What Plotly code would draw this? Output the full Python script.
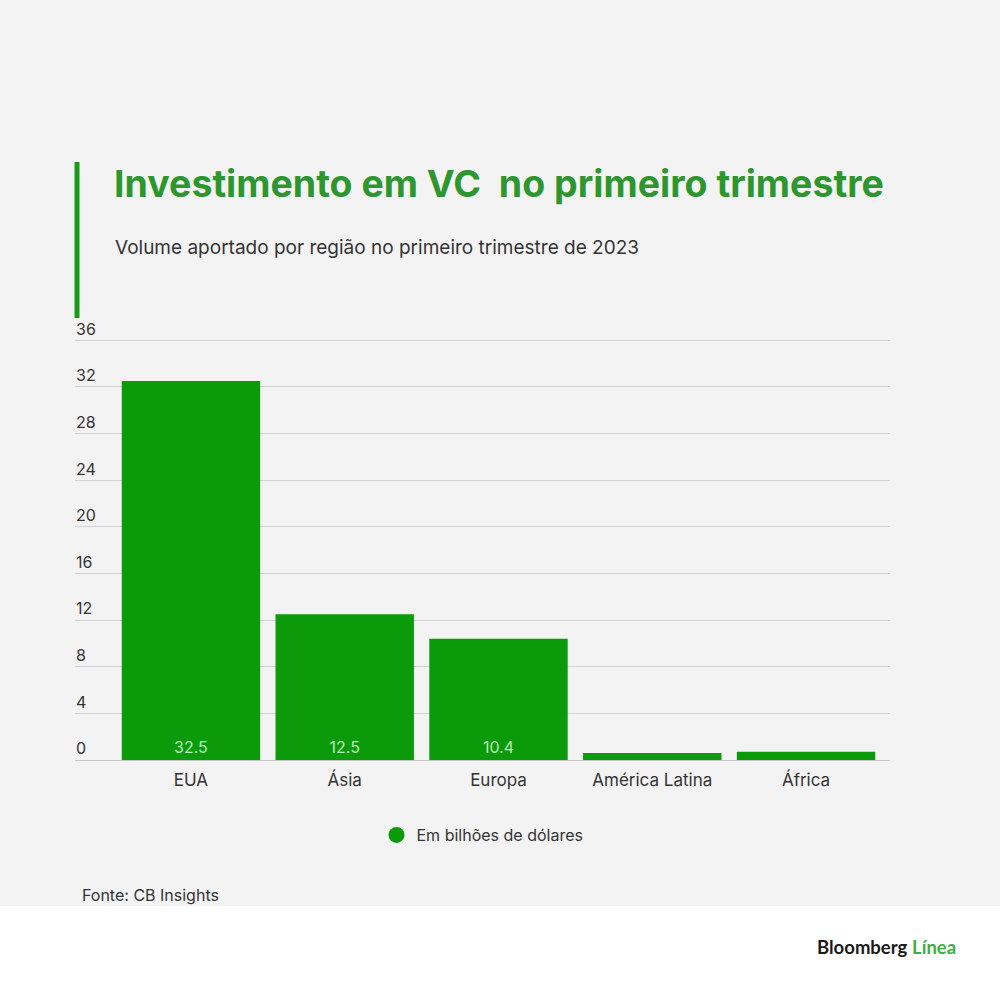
import plotly.graph_objects as go

categories = ["EUA", "Ásia", "Europa", "América Latina", "África"]
values = [32.5, 12.5, 10.4, 0.6, 0.7]
y_ticks = [0, 4, 8, 12, 16, 20, 24, 28, 32, 36]
series_name = "Em bilhões de dólares"

GREEN = "#0a9a0a"
FONT = "Inter, Roboto, sans-serif"

W, H = 1000, 991
Y_TOP = 38.5
PX_PER_UNIT = 420 / 36
L, R = 75, 110
B = 231
T = int(round(340 - (Y_TOP - 36) * PX_PER_UNIT))
PW = W - L - R
PH = H - T - B


def px_x(px):
    return (px - L) / PW


def px_y(py):
    return (H - B - py) / PH


labels = [f"{v}" if v > 5 else "" for v in values]

fig = go.Figure()
fig.add_trace(go.Bar(
    x=categories, y=values, width=0.9,
    marker=dict(color=GREEN, line=dict(width=0)),
    text=labels, textposition="inside", insidetextanchor="start",
    textangle=0, constraintext="none",
    textfont=dict(color="#b8f0b8", size=16, family=FONT),
    showlegend=False, hoverinfo="skip",
))
fig.add_trace(go.Scatter(
    x=[None], y=[None], mode="markers", name=series_name,
    marker=dict(color=GREEN, size=22, symbol="circle"),
))

fig.update_layout(
    width=W, height=H,
    margin=dict(l=L, r=R, t=T, b=B, pad=0),
    paper_bgcolor="#f3f3f3", plot_bgcolor="#f3f3f3",
    font=dict(family=FONT, color="#333333"),
    bargap=0.1,
    legend=dict(orientation="h", x=0.5, xanchor="center", y=px_y(835),
                yanchor="middle", font=dict(size=16, color="#333333"),
                bgcolor="rgba(0,0,0,0)", itemsizing="trace"),
    xaxis=dict(range=[-0.754, 4.546], showgrid=False, showline=False,
               ticks="", tickfont=dict(size=17, color="#333333"),
               ticklabelstandoff=8,
               zeroline=False, fixedrange=True),
    yaxis=dict(range=[0, Y_TOP], tickvals=y_ticks, ticklabelposition="inside top",
               showgrid=True, gridcolor="#d2d2d2", gridwidth=1,
               zeroline=True, zerolinecolor="#c8c8c8", zerolinewidth=1,
               showline=False, ticks="", ticklabelstandoff=-2,
               tickfont=dict(size=16, color="#333333"), fixedrange=True),
    shapes=[
        dict(type="line", xref="paper", yref="paper",
             x0=px_x(77), x1=px_x(77), y0=px_y(162), y1=px_y(318),
             line=dict(color="#1a9a1a", width=5)),
        dict(type="rect", xref="paper", yref="paper",
             x0=px_x(0), x1=px_x(W), y0=px_y(906), y1=px_y(H + 2),
             fillcolor="#ffffff", line=dict(width=0), layer="above"),
    ],
    annotations=[
        dict(text="<b>Investimento em VC  no primeiro trimestre</b>",
             xref="paper", yref="paper", x=px_x(112), y=px_y(184),
             xanchor="left", yanchor="middle", showarrow=False,
             font=dict(size=37.5, color="#2e962e", family=FONT)),
        dict(text="Volume aportado por região no primeiro trimestre de 2023",
             xref="paper", yref="paper", x=px_x(113), y=px_y(247),
             xanchor="left", yanchor="middle", showarrow=False,
             font=dict(size=19, color="#333333", family=FONT)),
        dict(text="Fonte: CB Insights",
             xref="paper", yref="paper", x=px_x(80), y=px_y(895),
             xanchor="left", yanchor="middle", showarrow=False,
             font=dict(size=16, color="#333333", family=FONT)),
        dict(text="<b>Bloomberg</b> <span style='color:#3cb043'><b>Línea</b></span>",
             xref="paper", yref="paper", x=px_x(958), y=px_y(947),
             xanchor="right", yanchor="middle", showarrow=False,
             font=dict(size=18.5, color="#1a1a1a", family="Lato, Roboto, sans-serif")),
    ],
)

fig.write_html("out.html", config={"displayModeBar": False},
               post_script="document.body.style.margin='0';")
